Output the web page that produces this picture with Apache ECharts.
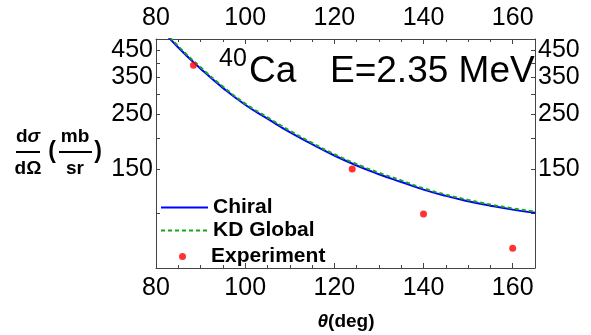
<!DOCTYPE html>
<html>
<head>
<meta charset="utf-8">
<script src="https://cdn.jsdelivr.net/npm/echarts@6/dist/echarts.min.js"></script>
<style>
  html, body { margin: 0; padding: 0; background: #fff; }
  #chart { width: 591px; height: 335px; }
</style>
</head>
<body>
<div id="chart"></div>
<script>
// angles (deg) and cross sections (mb/sr)
var thetaCurve = [80, 85, 90, 95, 100, 105, 110, 115, 120, 125, 130, 135, 140, 145, 150, 155, 160, 165];
var chiral     = [580, 462, 380, 318, 272, 239, 211, 189, 170, 155, 143, 133, 124, 117, 111.4, 106.8, 103, 100];
var kdGlobal   = [587, 468, 385, 322, 275, 242, 214, 191, 172, 157, 145, 135, 125.5, 118.4, 112.7, 108, 104.2, 101.2];
var thetaExp   = [88.4, 124, 140, 160];
var experiment = [392, 150, 99, 72];
var yLabels = [150, 250, 350, 450];
var yTicks = [100, 150, 200, 250, 300, 350, 400, 450];

function pairs(xs, ys) {
  return xs.map(function (x, i) { return [x, ys[i]]; });
}

var font = 'Liberation Sans, Arial, sans-serif';
var frame = '#444';
var legendText = { fontSize: 21, fontWeight: 'bold', fontFamily: font, color: '#000' };

function xAxis(pos) {
  return {
    type: 'value', position: pos, min: 80, max: 165, interval: 20,
    axisLine: { show: true, onZero: false, lineStyle: { color: frame, width: 1 } },
    axisTick: { show: true, inside: true, length: 5, lineStyle: { color: frame } },
    minorTick: { show: true, splitNumber: 4, length: 3, lineStyle: { color: frame } },
    axisLabel: { color: '#000', fontSize: 25, fontFamily: font, margin: 8, showMaxLabel: false },
    splitLine: { show: false }
  };
}
function yAxis(pos) {
  return {
    type: 'log', position: pos, min: 60, max: 500,
    axisLine: { show: true, lineStyle: { color: frame, width: 1 } },
    axisTick: { show: true, inside: true, length: 4, customValues: yTicks, lineStyle: { color: frame } },
    axisLabel: { color: '#000', fontSize: 25, fontFamily: font, margin: 3, customValues: yLabels },
    splitLine: { show: false }
  };
}

var chart = echarts.init(document.getElementById('chart'));
chart.setOption({
  animation: false,
  backgroundColor: '#fff',
  grid: { left: 156, right: 56, top: 39, bottom: 67 },
  xAxis: [xAxis('bottom'), xAxis('top')],
  yAxis: [yAxis('left'), yAxis('right')],
  legend: [
    { data: [{ name: 'Chiral', itemStyle: { opacity: 0 } }], left: 155, top: 192, itemWidth: 47, itemHeight: 2,
      textStyle: legendText },
    { data: [{ name: 'KD Global', itemStyle: { opacity: 0 } }], left: 155, top: 215, itemWidth: 47, itemHeight: 2,
      textStyle: legendText },
    { data: [{ name: 'Experiment', icon: 'circle' }], left: 174, top: 241, itemWidth: 7, itemHeight: 7,
      textStyle: Object.assign({ padding: [0, 0, 9, 20] }, legendText) }
  ],
  series: [
    { name: 'Chiral', type: 'line', smooth: true, symbol: 'none', clip: true, z: 2,
      data: pairs(thetaCurve, chiral),
      lineStyle: { color: '#0000ff', width: 2 }, itemStyle: { color: '#0000ff' } },
    { name: 'KD Global', type: 'line', smooth: true, symbol: 'none', clip: true, z: 3,
      data: pairs(thetaCurve, kdGlobal),
      lineStyle: { color: '#1aa51a', width: 2, type: [4, 3] }, itemStyle: { color: '#1aa51a' } },
    { name: 'Experiment', type: 'scatter', symbol: 'circle', symbolSize: 7, z: 4,
      data: pairs(thetaExp, experiment), itemStyle: { color: '#ff0000' } }
  ],
  graphic: [
    { type: 'text', left: 219, top: 47, style: { text: '40', fontSize: 25, fontFamily: font, fill: '#000' } },
    { type: 'text', left: 249, top: 53, style: { text: 'Ca', fontSize: 37, fontFamily: font, fill: '#000' } },
    { type: 'text', left: 330, top: 53, style: { text: 'E=2.35 MeV', fontSize: 37, fontFamily: font, fill: '#000' } },
    // y axis title: d sigma / d Omega (mb / sr)
    { type: 'text', x: 28, y: 137, style: { text: '{n|d}{it|σ}', align: 'center', verticalAlign: 'middle',
        rich: { n: { fontSize: 19, fontWeight: 'bold', fontFamily: font }, it: { fontSize: 19, fontWeight: 'bold', fontStyle: 'italic', fontFamily: font } } } },
    { type: 'line', shape: { x1: 16, y1: 152, x2: 40, y2: 152 }, style: { stroke: '#000', lineWidth: 2 } },
    { type: 'text', x: 28, y: 169, style: { text: 'dΩ', align: 'center', verticalAlign: 'middle', fontSize: 19, fontWeight: 'bold', fontFamily: font, fill: '#000' } },
    { type: 'text', x: 52, y: 152, style: { text: '(', align: 'center', verticalAlign: 'middle', fontSize: 23, fontWeight: 'bold', fontFamily: font, fill: '#000' } },
    { type: 'text', x: 75, y: 137, style: { text: 'mb', align: 'center', verticalAlign: 'middle', fontSize: 19, fontWeight: 'bold', fontFamily: font, fill: '#000' } },
    { type: 'line', shape: { x1: 59, y1: 152, x2: 92, y2: 152 }, style: { stroke: '#000', lineWidth: 2 } },
    { type: 'text', x: 75, y: 169, style: { text: 'sr', align: 'center', verticalAlign: 'middle', fontSize: 19, fontWeight: 'bold', fontFamily: font, fill: '#000' } },
    { type: 'text', x: 98, y: 152, style: { text: ')', align: 'center', verticalAlign: 'middle', fontSize: 23, fontWeight: 'bold', fontFamily: font, fill: '#000' } },
    // x axis title
    { type: 'text', x: 346, y: 322, style: { text: '{it|θ}{n|(deg)}', align: 'center', verticalAlign: 'middle',
        rich: { n: { fontSize: 19, fontWeight: 'bold', fontFamily: font }, it: { fontSize: 19, fontWeight: 'bold', fontStyle: 'italic', fontFamily: font } } } }
  ]
});
</script>
</body>
</html>
